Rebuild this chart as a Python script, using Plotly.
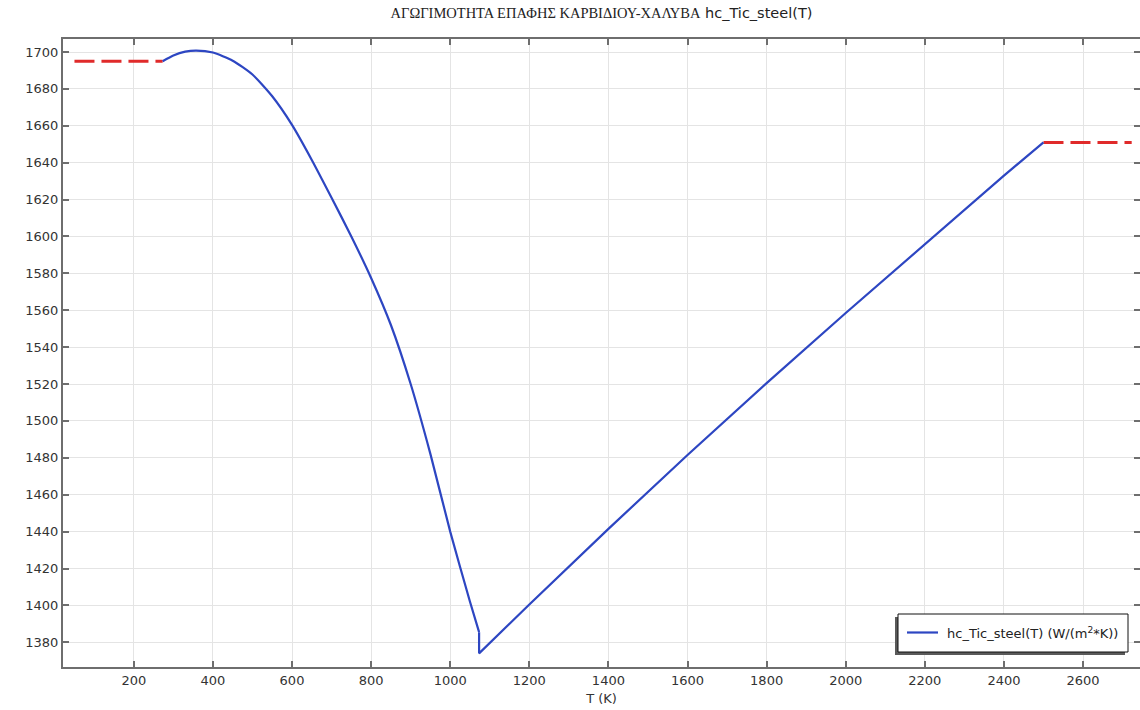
import plotly.graph_objects as go

# Contact conductance of carbide/steel, hc_Tic_steel(T), W/(m^2*K)
# Branch 1: smooth curve from 273 K up to the phase-change temperature
T_low = [273, 300, 330, 358, 400, 450, 500, 550, 600, 650, 700, 750,
         800, 850, 900, 950, 1000, 1050, 1073]
hc_low = [1695.0, 1698.1, 1700.2, 1700.8, 1699.7, 1695.3, 1687.8, 1676.0,
          1660.5, 1641.5, 1621.0, 1600.0, 1577.5, 1552.0, 1520.0, 1482.0,
          1440.0, 1402.0, 1385.5]

# Branch 2: drop at 1073 K and near-linear rise up to 2500 K
T_high = [1073, 1073, 1200, 1400, 1600, 1800, 2000, 2200, 2400, 2500]
hc_high = [1385.5, 1374.0, 1400.5, 1441.5, 1481.5, 1520.5, 1558.5, 1596.0,
           1633.0, 1651.0]

# Constant extrapolation outside the defined interval
T_extrap_left = [50, 273]
hc_extrap_left = [1695.0, 1695.0]
T_extrap_right = [2500, 2723]
hc_extrap_right = [1651.0, 1651.0]

x_ticks = list(range(200, 2601, 200))
y_ticks = list(range(1380, 1701, 20))

legend_label = "hc_Tic_steel(T) (W/(m<sup>2</sup>*K))"

BLUE = "#2d46c2"
RED = "#e02a2a"
AXIS = "#6e6e6e"
GRID = "#e4e4e4"
TXT = "#333333"
FONT = "DejaVu Sans"

# plot-area geometry in pixels, used to place the boxed legend
PL, PR, PT, PB = 63, 1140, 39, 667


def px(x):
    return (x - PL) / (PR - PL)


def py(y):
    return (PB - y) / (PB - PT)


fig = go.Figure()

fig.add_trace(go.Scatter(
    x=T_extrap_left, y=hc_extrap_left, mode="lines", showlegend=False,
    line=dict(color=RED, width=3, dash="20px,7px"), hoverinfo="skip"))
fig.add_trace(go.Scatter(
    x=T_extrap_right, y=hc_extrap_right, mode="lines", showlegend=False,
    line=dict(color=RED, width=3, dash="20px,7px"), hoverinfo="skip"))

fig.add_trace(go.Scatter(
    x=T_low, y=hc_low, mode="lines", showlegend=False,
    line=dict(color=BLUE, width=2.2, shape="spline", smoothing=0.6)))
fig.add_trace(go.Scatter(
    x=T_high, y=hc_high, mode="lines", showlegend=False,
    name=legend_label, line=dict(color=BLUE, width=2.2)))

# invisible helper trace carrying the right-hand y axis ticks
fig.add_trace(go.Scatter(x=[None], y=[None], yaxis="y2", showlegend=False,
                         hoverinfo="skip"))

y_range = [1366.6, 1707.05]

# boxed legend with a drop shadow
shapes = [
    dict(type="rect", xref="paper", yref="paper", layer="above",
         x0=px(895), x1=px(1125), y0=py(655), y1=py(617),
         fillcolor="#5a5a5a", line=dict(width=0)),
    dict(type="rect", xref="paper", yref="paper", layer="above",
         x0=px(898), x1=px(1128), y0=py(652), y1=py(614),
         fillcolor="white", line=dict(color="#111111", width=1)),
    dict(type="line", xref="paper", yref="paper", layer="above",
         x0=px(907), x1=px(938), y0=py(632.5), y1=py(632.5),
         line=dict(color=BLUE, width=2.2)),
]
annotations = [
    dict(text=legend_label, xref="paper", yref="paper",
         x=px(945), y=py(632.5), xanchor="left", yanchor="middle",
         showarrow=False, font=dict(family=FONT, size=13, color="#222222")),
]

fig.update_layout(
    width=1140, height=710,
    margin=dict(l=PL, r=0, t=PT, b=710 - PB),
    paper_bgcolor="white", plot_bgcolor="white",
    font=dict(family=FONT, size=13, color=TXT),
    showlegend=False,
    title=dict(
        text=("<span style=\"font-family:'Liberation Serif'\">"
              "ΑΓΩΓΙΜΟΤΗΤΑ ΕΠΑΦΗΣ ΚΑΡΒΙΔΙΟΥ-ΧΑΛΥΒΑ</span> hc_Tic_steel(T)"),
        font=dict(family=FONT, size=14.5, color="#222222"),
        x=0.5, xref="paper", xanchor="center",
        y=1 - 13 / 710, yref="container", yanchor="middle"),
    xaxis=dict(
        range=[21, 2744], tickvals=x_ticks, ticks="inside", ticklen=6,
        tickcolor=AXIS, tickwidth=1.5, showline=True, linecolor=AXIS,
        linewidth=2, mirror="ticks", showgrid=True, gridcolor=GRID,
        gridwidth=1, zeroline=False,
        tickfont=dict(family=FONT, size=13, color=TXT),
        title=dict(text="T (K)", font=dict(family=FONT, size=13, color=TXT),
                   standoff=7)),
    yaxis=dict(
        range=y_range, tickvals=y_ticks, ticks="inside", ticklen=6,
        tickcolor=AXIS, tickwidth=1.5, showline=True, linecolor=AXIS,
        linewidth=2, mirror=False, showgrid=True, gridcolor=GRID,
        gridwidth=1, zeroline=False,
        tickfont=dict(family=FONT, size=13, color=TXT)),
    yaxis2=dict(
        range=y_range, tickvals=y_ticks, overlaying="y", side="right",
        ticks="inside", ticklen=6, tickcolor=AXIS, tickwidth=1.5,
        showticklabels=False, showline=False, showgrid=False,
        zeroline=False),
    shapes=shapes,
    annotations=annotations,
)

fig.write_html("out.html")
